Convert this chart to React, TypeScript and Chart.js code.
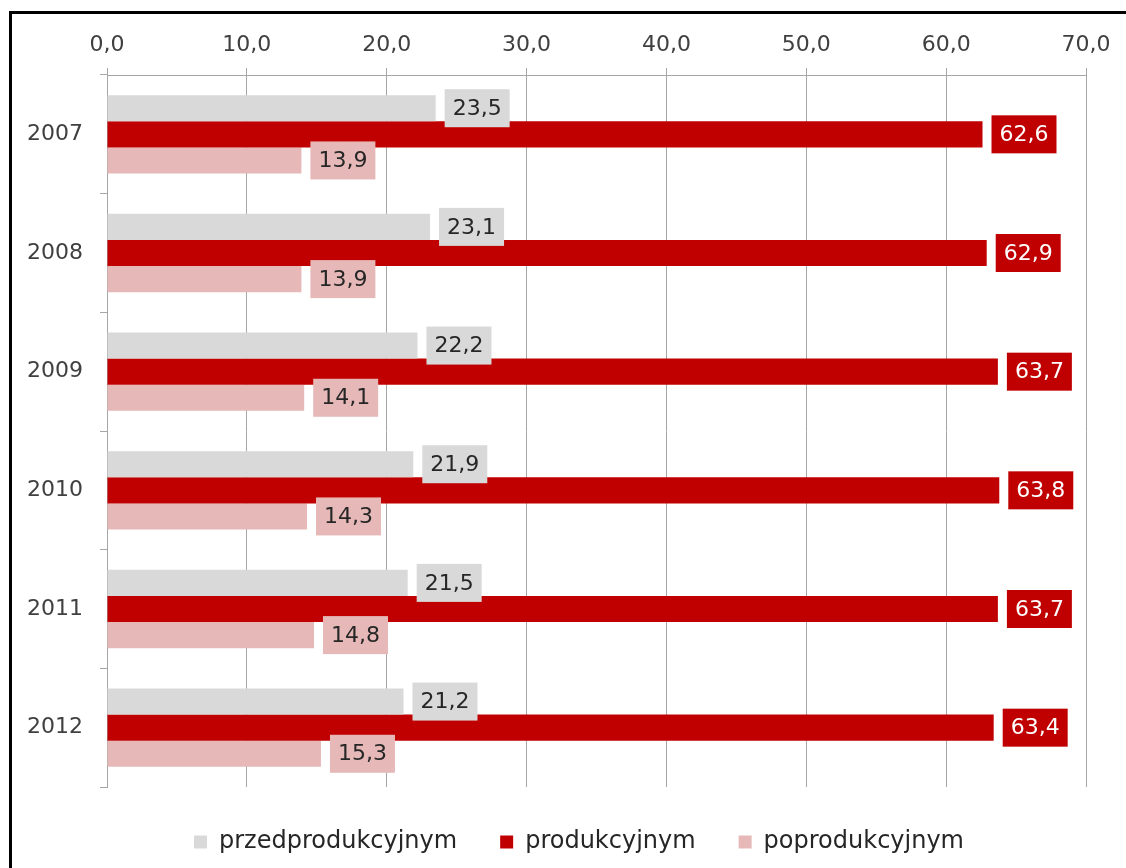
import React, { useEffect, useRef } from "react";
import { Chart, registerables } from "chart.js";

Chart.register(...registerables);

const categories = ["2007", "2008", "2009", "2010", "2011", "2012"];
const seriesNames = ["przedprodukcyjnym", "produkcyjnym", "poprodukcyjnym"];
const przed = [23.5, 23.1, 22.2, 21.9, 21.5, 21.2];
const prod = [62.6, 62.9, 63.7, 63.8, 63.7, 63.4];
const popro = [13.9, 13.9, 14.1, 14.3, 14.8, 15.3];
const xTicks = [0, 10, 20, 30, 40, 50, 60, 70];

const FONT = "'DejaVu Sans', sans-serif";
const COLORS = ["#d9d9d9", "#c00000", "#e6b9b8"];
const LABEL_TEXT = ["#262626", "#ffffff", "#262626"];
const GRID = "#a6a6a6";
const LEGEND_SHIFT = 36;

const fmt = (v: number) => v.toFixed(1).replace(".", ",");

const valueLabelPlugin = {
  id: "valueLabels",
  afterDatasetsDraw(chart: any) {
    const ctx = chart.ctx;
    ctx.save();
    ctx.font = `22px ${FONT}`;
    ctx.textBaseline = "middle";
    ctx.textAlign = "left";
    chart.data.datasets.forEach((ds: any, di: number) => {
      const meta = chart.getDatasetMeta(di);
      if (meta.hidden) return;
      meta.data.forEach((el: any, i: number) => {
        const text = fmt(ds.data[i]);
        const tw = ctx.measureText(text).width;
        const bh = 38;
        const bw = tw + 16;
        const bx = el.x + 9;
        ctx.fillStyle = ds.backgroundColor;
        ctx.fillRect(bx, el.y - bh / 2, bw, bh);
        ctx.fillStyle = LABEL_TEXT[di];
        ctx.fillText(text, bx + 8, el.y + 1);
      });
    });
    ctx.restore();
  },
};

const legendShiftPlugin = {
  id: "legendShift",
  afterLayout(chart: any) {
    if (chart.legend) {
      chart.legend.left += LEGEND_SHIFT;
      chart.legend.right += LEGEND_SHIFT;
    }
  },
};

export default function App() {
  const ref = useRef<HTMLCanvasElement | null>(null);

  useEffect(() => {
    if (!ref.current) return;
    const chart = new Chart(ref.current, {
      type: "bar",
      data: {
        labels: categories,
        datasets: [przed, prod, popro].map((d, i) => ({
          label: seriesNames[i],
          data: d,
          backgroundColor: COLORS[i],
          borderWidth: 0,
          barPercentage: 1,
          categoryPercentage: 0.66,
        })),
      },
      options: {
        indexAxis: "y",
        responsive: false,
        animation: false,
        layout: { padding: { left: 0, right: 40, top: 0, bottom: 4 } },
        scales: {
          x: {
            position: "top",
            min: 0,
            max: 70,
            afterBuildTicks: (axis: any) => {
              axis.ticks = xTicks.map((v) => ({ value: v }));
            },
            afterFit: (axis: any) => {
              axis.height = 75;
            },
            ticks: {
              padding: 10,
              color: "#404040",
              font: { family: FONT, size: 22 },
              callback: (v: any) => fmt(Number(v)),
            },
            grid: { color: GRID, tickLength: 7, lineWidth: 1 },
            border: { display: true, color: GRID },
          },
          y: {
            afterFit: (axis: any) => {
              axis.width = 107;
            },
            ticks: {
              padding: 17,
              color: "#404040",
              font: { family: FONT, size: 22 },
            },
            grid: {
              offset: true,
              drawOnChartArea: false,
              color: GRID,
              tickLength: 7,
            },
            border: { display: true, color: GRID },
          },
        },
        plugins: {
          legend: {
            position: "bottom",
            labels: {
              boxWidth: 13,
              boxHeight: 13,
              padding: 43,
              color: "#262626",
              font: { family: FONT, size: 24 },
            },
          },
          tooltip: { enabled: false },
        },
      },
      plugins: [valueLabelPlugin, legendShiftPlugin],
    });
    return () => chart.destroy();
  }, []);

  return (
    <div
      style={{
        position: "absolute",
        left: 0,
        top: 0,
        width: 1126,
        height: 868,
        overflow: "hidden",
        background: "#ffffff",
      }}
    >
      <canvas ref={ref} width={1126} height={868} style={{ display: "block", width: 1126, height: 868 }} />
      <div
        style={{
          position: "absolute",
          left: 9,
          top: 11,
          width: 1300,
          height: 1100,
          border: "3px solid #000",
          pointerEvents: "none",
        }}
      />
    </div>
  );
}
